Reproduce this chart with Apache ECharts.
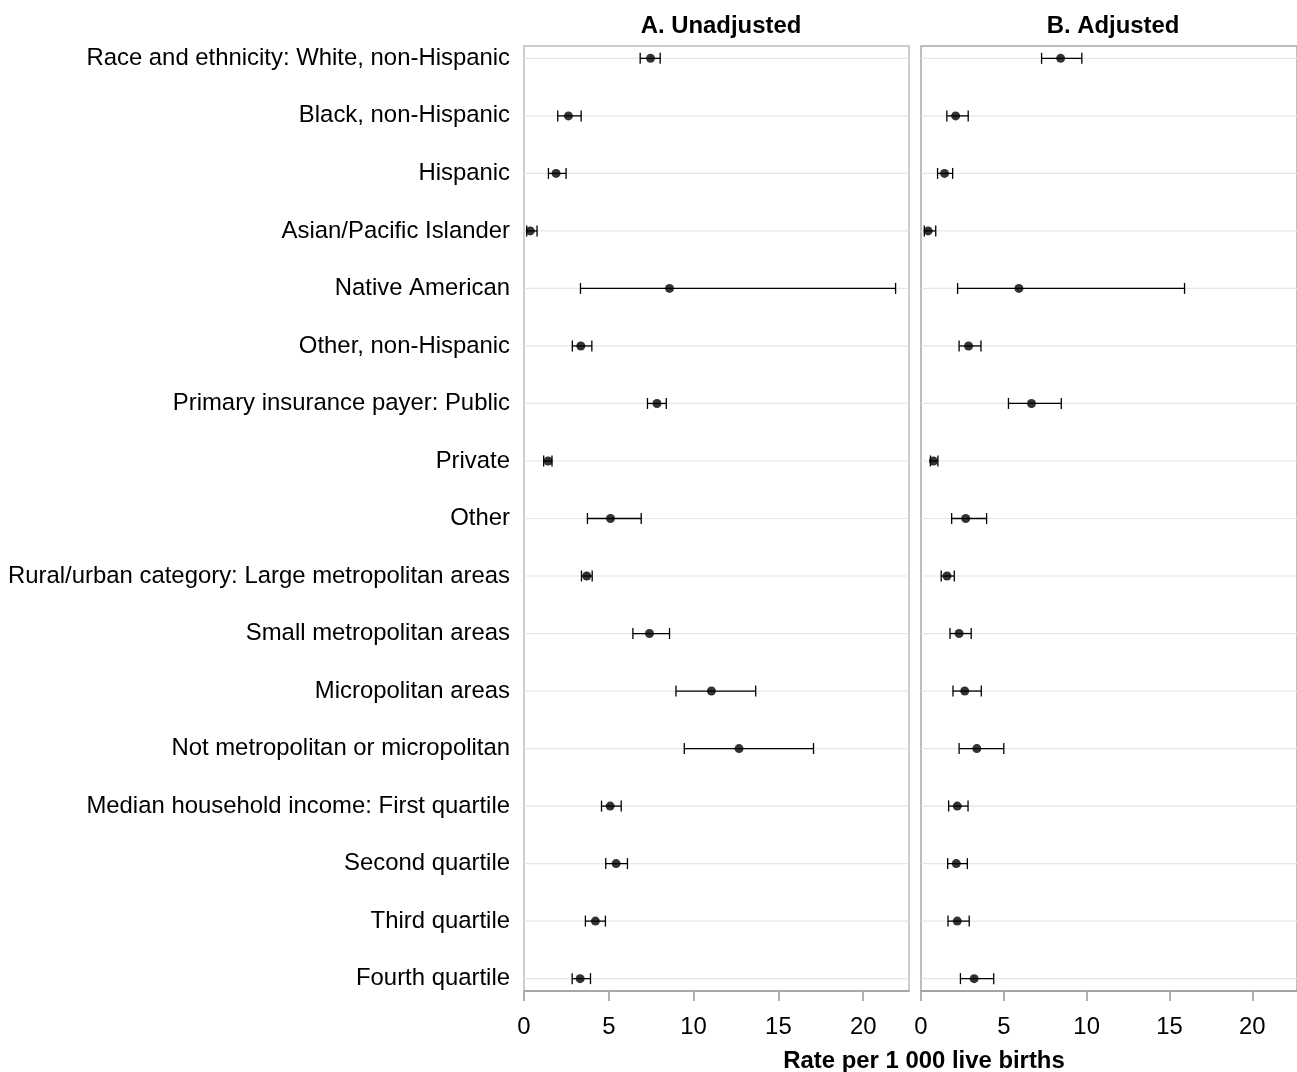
<!DOCTYPE html>
<html>
<head>
<meta charset="utf-8">
<title>Rate per 1 000 live births</title>
<script src="https://cdn.jsdelivr.net/npm/echarts@6/dist/echarts.min.js"></script>
<style>
  html, body { margin: 0; padding: 0; background: #fff; }
  #chart { width: 1297px; height: 1072px; }
</style>
</head>
<body>
<div id="chart"></div>
<script>
// row labels, top to bottom
var rowLabels = [
  'Race and ethnicity: White, non-Hispanic', 'Black, non-Hispanic', 'Hispanic',
  'Asian/Pacific Islander', 'Native American', 'Other, non-Hispanic',
  'Primary insurance payer: Public', 'Private', 'Other',
  'Rural/urban category: Large metropolitan areas', 'Small metropolitan areas',
  'Micropolitan areas', 'Not metropolitan or micropolitan',
  'Median household income: First quartile', 'Second quartile', 'Third quartile', 'Fourth quartile'
];

// A. Unadjusted
var unadjRate = [7.46, 2.62, 1.89, 0.37, 8.58, 3.35, 7.84, 1.42, 5.10, 3.70, 7.40, 11.05, 12.68, 5.08, 5.43, 4.21, 3.31];
var unadjLow  = [6.85, 1.99, 1.44, 0.16, 3.33, 2.85, 7.28, 1.16, 3.74, 3.39, 6.42, 8.96, 9.45, 4.57, 4.82, 3.62, 2.84];
var unadjHigh = [8.03, 3.37, 2.48, 0.77, 21.91, 4.00, 8.39, 1.65, 6.91, 4.02, 8.58, 13.66, 17.07, 5.73, 6.10, 4.80, 3.92];

// B. Adjusted
var adjRate = [8.43, 2.09, 1.42, 0.43, 5.91, 2.87, 6.67, 0.75, 2.70, 1.57, 2.30, 2.64, 3.37, 2.19, 2.13, 2.19, 3.21];
var adjLow  = [7.28, 1.56, 1.00, 0.20, 2.21, 2.30, 5.28, 0.57, 1.85, 1.22, 1.75, 1.93, 2.30, 1.67, 1.61, 1.63, 2.38];
var adjHigh = [9.71, 2.85, 1.91, 0.89, 15.91, 3.62, 8.47, 1.02, 3.96, 2.01, 3.03, 3.64, 5.00, 2.84, 2.80, 2.91, 4.39];

var xTicks = [0, 5, 10, 15, 20];
var rowIdx = rowLabels.map(function (d, i) { return i; });

var FONT = "'Liberation Sans', Arial, sans-serif";
var FS = 23.9;

function xAxisFor(gridIndex) {
  return {
    type: 'value', gridIndex: gridIndex, min: 0, max: 22.7,
    axisLine: { show: true, onZero: false, lineStyle: { color: '#9a9a9a', width: 1.5 } },
    axisTick: { show: true, length: 10, customValues: xTicks, lineStyle: { color: '#b0b0b0', width: 2 } },
    axisLabel: { customValues: xTicks, color: '#000', fontSize: FS, fontFamily: FONT, margin: 24 },
    splitLine: { show: false }
  };
}

function yAxisFor(gridIndex, showLabels) {
  return {
    type: 'value', gridIndex: gridIndex, inverse: true, min: -0.215, max: 16.215,
    axisLine: { show: false, onZero: false },
    axisTick: { show: false },
    splitLine: { show: false },
    axisLabel: {
      show: showLabels, customValues: rowIdx, margin: 14,
      color: '#000', fontSize: FS, fontFamily: FONT,
      formatter: function (v) { return rowLabels[Math.round(v)]; }
    }
  };
}

// gridline + error bar for one row
function renderBar(params, api) {
  var cs = params.coordSys;
  var i = api.value(0);
  var lo = api.coord([api.value(1), i]);
  var hi = api.coord([api.value(2), i]);
  var y = lo[1];
  var cap = 5.5;
  var style = { stroke: '#000', lineWidth: 1.3 };
  return {
    type: 'group',
    children: [
      { type: 'line', shape: { x1: cs.x, y1: y, x2: cs.x + cs.width, y2: y }, style: { stroke: '#e6e6e6', lineWidth: 1.2 }, z2: 0 },
      { type: 'line', shape: { x1: lo[0], y1: y, x2: hi[0], y2: y }, style: style, z2: 5 },
      { type: 'line', shape: { x1: lo[0], y1: y - cap, x2: lo[0], y2: y + cap }, style: style, z2: 5 },
      { type: 'line', shape: { x1: hi[0], y1: y - cap, x2: hi[0], y2: y + cap }, style: style, z2: 5 }
    ]
  };
}

function panelSeries(idx, rate, low, high) {
  return [{
    type: 'custom', xAxisIndex: idx, yAxisIndex: idx,
    renderItem: renderBar, silent: true,
    data: rowIdx.map(function (i) { return [i, low[i], high[i]]; })
  }, {
    type: 'scatter', xAxisIndex: idx, yAxisIndex: idx, z: 5,
    symbol: 'circle', symbolSize: 9, silent: true,
    itemStyle: { color: '#000' },
    data: rowIdx.map(function (i) { return [rate[i], i]; })
  }];
}

var chart = echarts.init(document.getElementById('chart'), null, { renderer: 'canvas' });
chart.setOption({
  animation: false,
  backgroundColor: '#fff',
  textStyle: { fontFamily: FONT },
  title: [
    { text: 'A. Unadjusted', left: 716, top: 9, textAlign: 'center',
      textStyle: { fontSize: FS, fontWeight: 'bold', color: '#000', fontFamily: FONT } },
    { text: 'B. Adjusted', left: 1108, top: 9, textAlign: 'center',
      textStyle: { fontSize: FS, fontWeight: 'bold', color: '#000', fontFamily: FONT } },
    { text: 'Rate per 1 000 live births', left: 919, top: 1044, textAlign: 'center',
      textStyle: { fontSize: FS, fontWeight: 'bold', color: '#000', fontFamily: FONT } }
  ],
  grid: [
    { left: 524, right: 388, top: 46, bottom: 81, show: true, borderColor: '#bdbdbd', borderWidth: 1.5 },
    { left: 921, right: -8, top: 46, bottom: 81, show: true, borderColor: '#a8a8a8', borderWidth: 1.5 }
  ],
  xAxis: [xAxisFor(0), xAxisFor(1)],
  yAxis: [yAxisFor(0, true), yAxisFor(1, false)],
  series: panelSeries(0, unadjRate, unadjLow, unadjHigh).concat(panelSeries(1, adjRate, adjLow, adjHigh))
});
</script>
</body>
</html>
